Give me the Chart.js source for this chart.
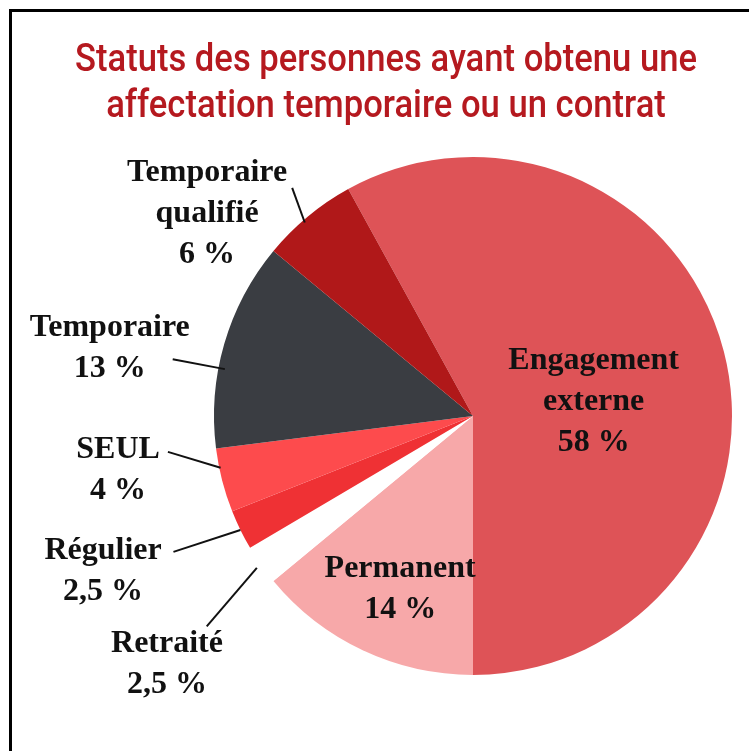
<!DOCTYPE html>
<html>
<head>
<meta charset="utf-8">
<script src="https://cdn.jsdelivr.net/npm/chart.js@4/dist/chart.umd.min.js"></script>
<style>
  body { margin: 0; background: #fff; }
  #wrap { position: relative; width: 749px; height: 751px; }
  #frame { position: absolute; left: 9px; top: 9px; width: 760px; height: 760px;
           border-top: 3px solid #000; border-left: 3px solid #000; pointer-events: none; }
  canvas { position: absolute; left: 0; top: 0; }
</style>
</head>
<body>
<div id="wrap">
  <div id="frame"></div>
  <canvas id="pie" width="749" height="751"></canvas>
</div>
<script>
// data
const titleLines = ['Statuts des personnes ayant obtenu une', 'affectation temporaire ou un contrat'];
const statusLabels = [['Engagement', 'externe'], ['Permanent'], ['Retraité'], ['Régulier'], ['SEUL'], ['Temporaire'], ['Temporaire', 'qualifié']];
const statusValues = [58, 14, 2.5, 2.5, 4, 13, 6];
const valueText = ['58 %', '14 %', '2,5 %', '2,5 %', '4 %', '13 %', '6 %'];
const sliceColors = ['#de5357', '#f7a8a9', '#ffffff', '#ef3134', '#fd4b4d', '#3a3d42', '#b01819'];

// label placement, relative to each slice: text at (radius factor, degrees from slice middle)
// leader: [inner radius factor, inner angle shift, outer radius factor, outer angle shift]
const labelLayout = [
  { r: 0.47, a: 6.9 },
  { r: 0.72, a: -2.2 },
  { r: 1.516, a: -3.7, line: [1.02, 0, 1.31, -3.2] },
  { r: 1.546, a: 3.6, line: [1.0, 0, 1.27, 1.7] },
  { r: 1.385, a: 6.1, line: [0.995, 2.8, 1.186, 7.7] },
  { r: 1.428, a: -5.3, line: [0.975, -5.5, 1.18, -5.5] },
  { r: 1.294, a: -12.9, line: [0.99, -1.4, 1.124, 1.2] }
];

const titlePlugin = {
  id: 'drawTitle',
  afterDraw(chart) {
    const ctx = chart.ctx;
    ctx.save();
    ctx.font = '500 38px Roboto';
    ctx.fillStyle = '#b5191f';
    ctx.textAlign = 'center';
    ctx.textBaseline = 'alphabetic';
    const w = ctx.measureText(titleLines[0]).width;
    const sx = 622 / w;
    ctx.translate(386, 0);
    ctx.scale(sx, 1);
    ctx.fillText(titleLines[0], 0, 71);
    ctx.fillText(titleLines[1], 0, 117);
    ctx.restore();
  }
};

const labelPlugin = {
  id: 'sliceLabels',
  afterDatasetsDraw(chart) {
    const ctx = chart.ctx;
    const arcs = chart.getDatasetMeta(0).data;
    ctx.save();
    ctx.font = 'bold 32px "Liberation Serif"';
    ctx.fillStyle = '#111';
    ctx.strokeStyle = '#111';
    ctx.lineWidth = 2;
    ctx.textAlign = 'center';
    ctx.textBaseline = 'middle';
    arcs.forEach((arc, i) => {
      const p = arc.getProps(['x', 'y', 'startAngle', 'endAngle', 'outerRadius'], true);
      const mid = (p.startAngle + p.endAngle) / 2;
      const at = (f, shift) => {
        const a = mid + shift * Math.PI / 180;
        return [p.x + f * p.outerRadius * Math.cos(a), p.y + f * p.outerRadius * Math.sin(a)];
      };
      const lay = labelLayout[i];
      if (lay.line) {
        const a = at(lay.line[0], lay.line[1]);
        const b = at(lay.line[2], lay.line[3]);
        ctx.beginPath();
        ctx.moveTo(a[0], a[1]);
        ctx.lineTo(b[0], b[1]);
        ctx.stroke();
      }
      const lines = statusLabels[i].concat([valueText[i]]);
      const c = at(lay.r, lay.a);
      const step = 41;
      const top = c[1] - (lines.length - 1) * step / 2 + 2;
      lines.forEach((t, k) => ctx.fillText(t, c[0], top + k * step));
    });
    ctx.restore();
  }
};

new Chart(document.getElementById('pie'), {
  type: 'pie',
  data: {
    labels: statusLabels.map(l => l.join(' ')),
    datasets: [{
      data: statusValues,
      backgroundColor: sliceColors,
      borderWidth: 0
    }]
  },
  options: {
    responsive: false,
    animation: false,
    rotation: -28.8,
    layout: { padding: { left: 214, right: 17, top: 157, bottom: 76 } },
    plugins: {
      legend: { display: false },
      tooltip: { enabled: false },
      title: { display: false }
    }
  },
  plugins: [titlePlugin, labelPlugin]
});
</script>
</body>
</html>
